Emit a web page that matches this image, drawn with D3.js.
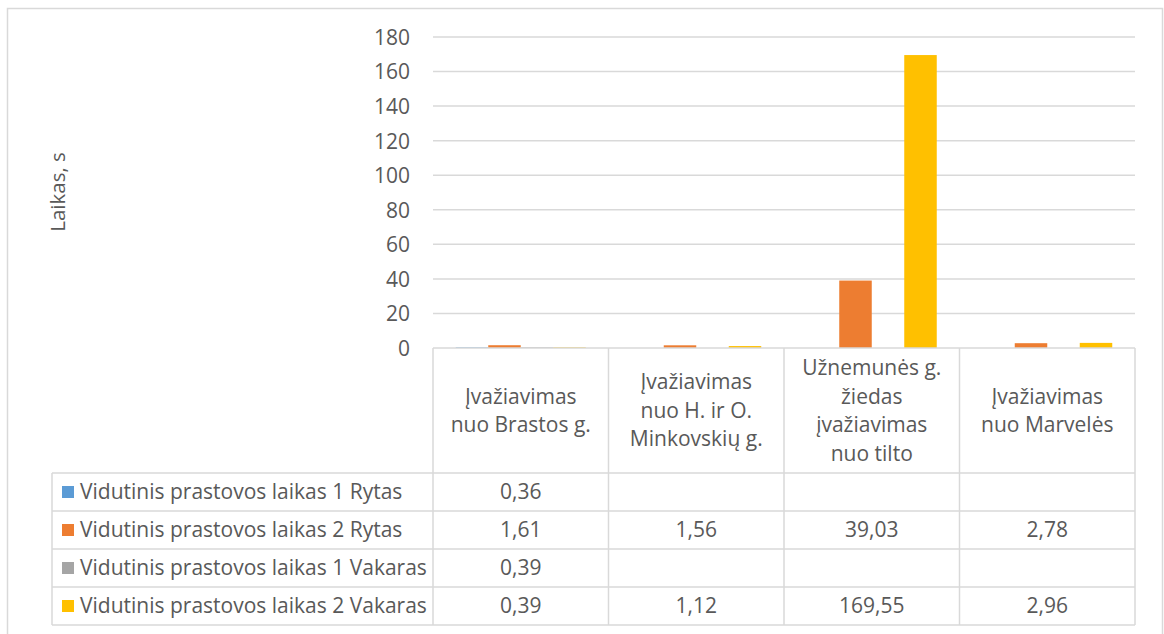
<!DOCTYPE html>
<html><head><meta charset="utf-8">
<script src="https://cdn.jsdelivr.net/npm/d3@7"></script>
<style>html,body{margin:0;padding:0;background:#fff;}svg{display:block;}</style>
</head><body>
<svg id="chart" width="1164" height="634"></svg>
<script>
const categories = [
  ["Įvažiavimas", "nuo Brastos g."],
  ["Įvažiavimas", "nuo H. ir O.", "Minkovskių g."],
  ["Užnemunės g.", "žiedas", "įvažiavimas", "nuo tilto"],
  ["Įvažiavimas", "nuo Marvelės"]
];
const seriesNames = [
  "Vidutinis prastovos laikas 1 Rytas",
  "Vidutinis prastovos laikas 2 Rytas",
  "Vidutinis prastovos laikas 1 Vakaras",
  "Vidutinis prastovos laikas 2 Vakaras"
];
const seriesColors = ["#5B9BD5", "#ED7D31", "#A5A5A5", "#FFC000"];
const laikas1Rytas = [0.36, null, null, null];
const laikas2Rytas = [1.61, 1.56, 39.03, 2.78];
const laikas1Vakaras = [0.39, null, null, null];
const laikas2Vakaras = [0.39, 1.12, 169.55, 2.96];
const yTicks = [0, 20, 40, 60, 80, 100, 120, 140, 160, 180];
const axisTitle = "Laikas, s";

const seriesValues = [laikas1Rytas, laikas2Rytas, laikas1Vakaras, laikas2Vakaras];

const W = 1164, H = 634;
const svg = d3.select("#chart");
const font = "Open Sans, Lato, sans-serif";
const fs = 21;
const textColor = "#595959";
const gridColor = "#D9D9D9";

const plotLeft = 433, plotRight = 1135, plotTop = 37, plotBottom = 348;
const headerBottom = 473, rowH = 38, tableLeft = 52;

svg.append("rect").attr("width", W).attr("height", H).attr("fill", "#fff");
// outer chart border
svg.append("rect").attr("x", 7.5).attr("y", 8.5).attr("width", 1155).attr("height", 700)
  .attr("fill", "none").attr("stroke", gridColor).attr("stroke-width", 1.5);

const x = d3.scaleBand().domain(d3.range(categories.length)).range([plotLeft, plotRight]).padding(0);
const xInner = d3.scaleBand().domain(d3.range(seriesNames.length)).range([0, x.bandwidth()])
  .paddingInner(0).paddingOuter(0.7);
const y = d3.scaleLinear().domain([0, 180]).range([plotBottom, plotTop]);

// gridlines
svg.append("g").selectAll("line").data(yTicks.filter(t => t > 0)).join("line")
  .attr("x1", plotLeft).attr("x2", plotRight)
  .attr("y1", d => y(d)).attr("y2", d => y(d))
  .attr("stroke", gridColor).attr("stroke-width", 1.5);

// y axis labels
const yAxis = d3.axisLeft(y).tickValues(yTicks).tickSize(0).tickPadding(0).tickFormat(d3.format("d"));
const yg = svg.append("g").attr("transform", `translate(${410},0)`).call(yAxis);
yg.select(".domain").remove();
yg.selectAll("text").attr("font-family", font).attr("font-size", fs).attr("fill", textColor).attr("dy", "0.35em");

// axis title
svg.append("text").attr("transform", "translate(58,192) rotate(-90)")
  .attr("text-anchor", "middle").attr("dy", "0.35em")
  .attr("font-family", font).attr("font-size", 20.5).attr("fill", textColor).text(axisTitle);

// bars
seriesValues.forEach((vals, si) => {
  svg.append("g").selectAll("rect").data(vals.map((v, ci) => ({v, ci})).filter(d => d.v != null)).join("rect")
    .attr("x", d => x(d.ci) + xInner(si))
    .attr("width", xInner.bandwidth())
    .attr("y", d => y(d.v))
    .attr("height", d => y(0) - y(d.v))
    .attr("fill", seriesColors[si]);
});

// data table
const tg = svg.append("g").attr("stroke", gridColor).attr("stroke-width", 1.5);
const tableBottom = headerBottom + rowH * seriesNames.length;
tg.append("line").attr("x1", plotLeft).attr("x2", plotRight).attr("y1", plotBottom).attr("y2", plotBottom);
d3.range(seriesNames.length + 1).forEach(i => {
  const yy = headerBottom + i * rowH;
  tg.append("line").attr("x1", tableLeft).attr("x2", plotRight).attr("y1", yy).attr("y2", yy);
});
tg.append("line").attr("x1", tableLeft).attr("x2", tableLeft).attr("y1", headerBottom).attr("y2", tableBottom);
d3.range(categories.length + 1).forEach(i => {
  const xx = plotLeft + i * x.bandwidth();
  tg.append("line").attr("x1", xx).attr("x2", xx).attr("y1", plotBottom).attr("y2", tableBottom);
});

// header labels
const lineH = 28.5;
const headerMid = (plotBottom + headerBottom) / 2;
categories.forEach((lines, ci) => {
  const cx = x(ci) + x.bandwidth() / 2;
  const startY = headerMid - (lines.length - 1) * lineH / 2;
  lines.forEach((ln, li) => {
    svg.append("text").attr("x", cx).attr("y", startY + li * lineH).attr("dy", "0.35em")
      .attr("text-anchor", "middle").attr("font-family", font).attr("font-size", fs)
      .attr("fill", textColor).text(ln);
  });
});

// rows
const fmt = v => v == null ? "" : d3.format(".2f")(v).replace(".", ",");
seriesNames.forEach((name, si) => {
  const cy = headerBottom + si * rowH + rowH / 2;
  svg.append("rect").attr("x", 62).attr("y", cy - 6).attr("width", 12).attr("height", 12).attr("fill", seriesColors[si]);
  svg.append("text").attr("x", 80).attr("y", cy).attr("dy", "0.35em")
    .attr("font-family", font).attr("font-size", fs).attr("fill", textColor).text(name);
  seriesValues[si].forEach((v, ci) => {
    svg.append("text").attr("x", x(ci) + x.bandwidth() / 2).attr("y", cy).attr("dy", "0.35em")
      .attr("text-anchor", "middle").attr("font-family", font).attr("font-size", fs)
      .attr("fill", textColor).text(fmt(v));
  });
});
</script>
</body></html>
